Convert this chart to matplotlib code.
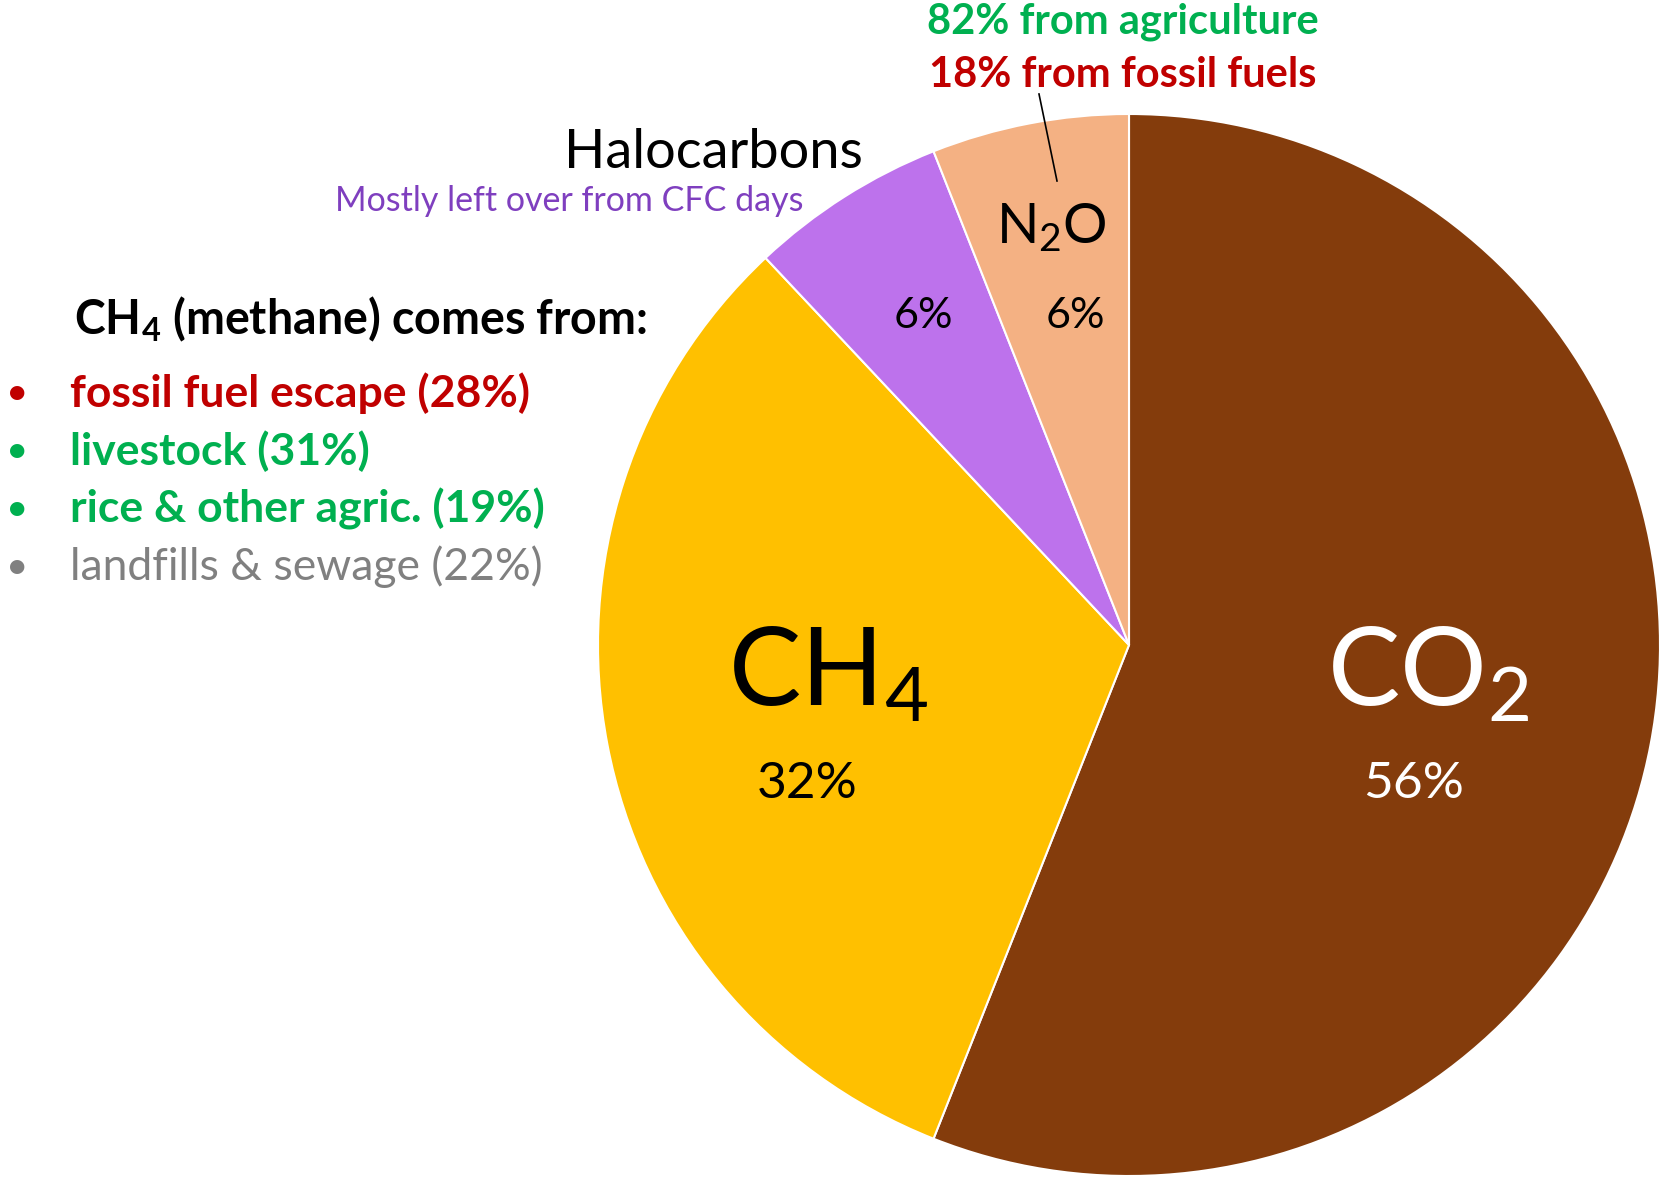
import matplotlib
matplotlib.use("Agg")
import matplotlib.pyplot as plt

plt.rcParams['font.family'] = ['Lato', 'DejaVu Sans']
plt.rcParams['mathtext.default'] = 'regular'

# share of warming by gas
gas_labels = [r'CO$_2$', r'CH$_4$', 'Halocarbons', r'N$_2$O']
gas_values = [56, 32, 6, 6]
gas_colors = ['#843C0C', '#FFC000', '#BD72EC', '#F4B183']

# methane sources
ch4_sources = ['fossil fuel escape', 'livestock', 'rice & other agric.', 'landfills & sewage']
ch4_shares = [28, 31, 19, 22]
ch4_colors = ['#C00000', '#00B050', '#00B050', '#808080']
ch4_bold = [True, True, True, False]

# N2O sources
n2o_notes = ['82% from agriculture', '18% from fossil fuels']
n2o_colors = ['#00B050', '#C00000']

W, H = 1665, 1181
fig = plt.figure(figsize=(W / 100, H / 100), dpi=100)
ax = fig.add_axes([0, 0, 1, 1])

def Y(y):
    return H - y

cx, cy, r = 1129, Y(645), 531
ax.pie(gas_values, colors=gas_colors, startangle=90, counterclock=False,
       center=(cx, cy), radius=r, frame=True,
       wedgeprops=dict(edgecolor='white', linewidth=1.5))
ax.set_xlim(0, W)
ax.set_ylim(0, H)
ax.set_aspect('equal')
ax.axis('off')

# big labels inside slices
ax.text(1428, Y(675), gas_labels[0], color='white', fontsize=78, ha='center', va='center')
ax.text(1414, Y(784), '%d%%' % gas_values[0], color='white', fontsize=37, ha='center', va='center')
ax.text(828, Y(675), gas_labels[1], color='black', fontsize=78, ha='center', va='center')
ax.text(807, Y(784), '%d%%' % gas_values[1], color='black', fontsize=37, ha='center', va='center')
ax.text(1051, Y(228), gas_labels[3], color='black', fontsize=40, ha='center', va='center')
ax.text(923, Y(316), '%d%%' % gas_values[2], color='black', fontsize=31, ha='center', va='center')
ax.text(1075, Y(316), '%d%%' % gas_values[3], color='black', fontsize=31, ha='center', va='center')

# halocarbons label
ax.text(863, Y(153), gas_labels[2], color='black', fontsize=39, ha='right', va='center')
ax.text(804, Y(201), 'Mostly left over from CFC days', color='#7F3FBF', fontsize=24.5,
        ha='right', va='center')

# N2O notes with leader
for i, note in enumerate(n2o_notes):
    ax.text(1123, Y(22 + 53 * i), note, color=n2o_colors[i], fontsize=30,
            fontweight='bold', ha='center', va='center')
ax.plot([1039, 1057], [Y(94), Y(181)], color='black', linewidth=1.2)

# methane sources list
ax.text(74, Y(319), r'CH$_4$ (methane) comes from:', color='black', fontsize=33.5,
        fontweight='bold', ha='left', va='center')
for i, (src, pct) in enumerate(zip(ch4_sources, ch4_shares)):
    yy = Y(393 + 58 * i)
    ax.text(6, yy, '\u2022', color=ch4_colors[i], fontsize=28, ha='left', va='center')
    ax.text(70, yy, '%s (%d%%)' % (src, pct), color=ch4_colors[i], fontsize=32,
            fontweight='bold' if ch4_bold[i] else 'normal', ha='left', va='center')

fig.savefig('out.png', dpi=100)
